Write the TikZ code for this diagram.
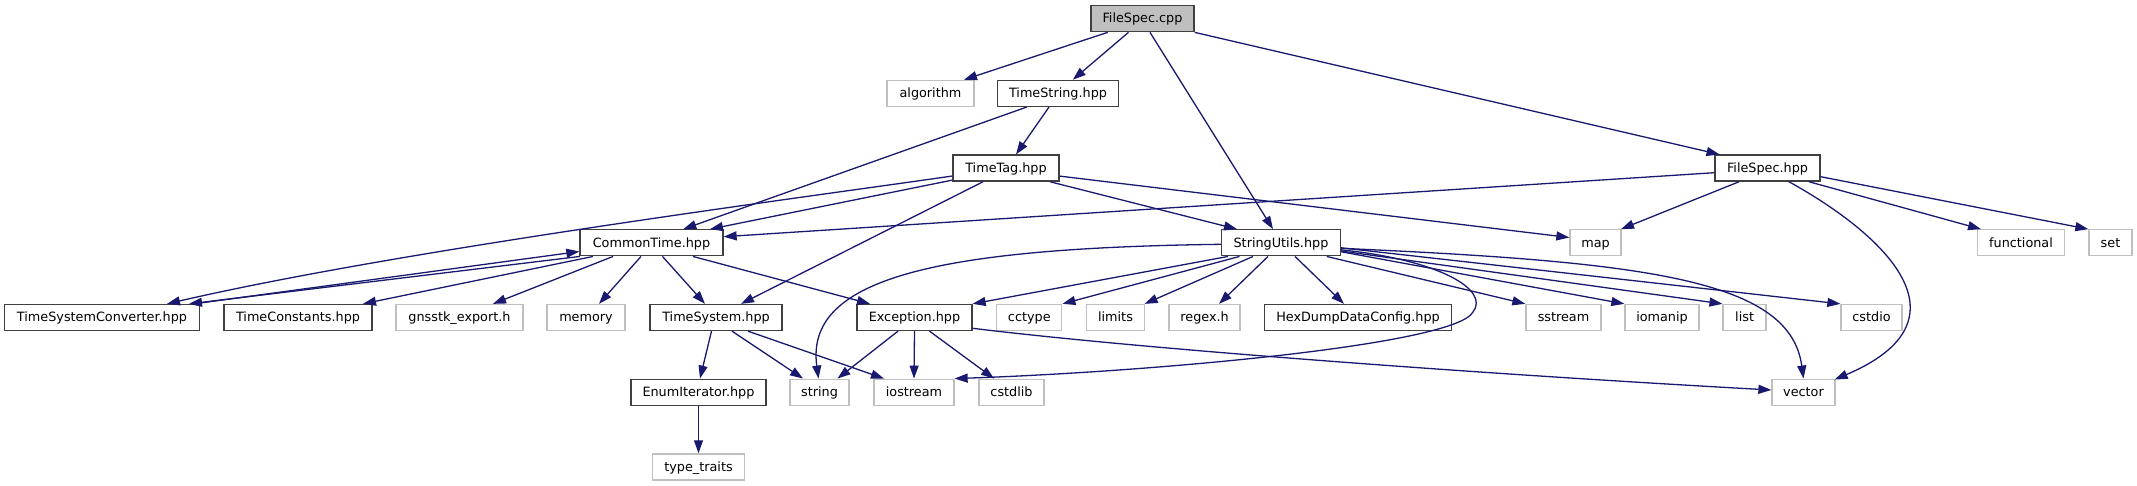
\documentclass[tikz,border=0pt]{standalone}
\usepackage{fontspec}
\setmainfont{DejaVu Sans}
\usetikzlibrary{arrows.meta}
\definecolor{midnight}{HTML}{191970}
\definecolor{docb}{HTML}{404040}
\definecolor{undocb}{HTML}{BFBFBF}
\definecolor{rootfill}{HTML}{BFBFBF}
\tikzset{
  box/.style={rectangle, minimum height=26pt, inner xsep=1pt, inner ysep=0pt,
    text height=11pt, text depth=2.6pt, line width=1.3pt,
    font=\fontsize{12.8pt}{15pt}\selectfont, text=black},
  doc/.style={box, draw=docb, fill=white},
  undoc/.style={box, draw=undocb, fill=white},
  root/.style={box, draw=docb, fill=rootfill},
  edge/.style={draw=midnight, line width=1.3pt, -{Triangle[length=13pt,width=9pt]}}
}
\begin{document}
\begin{tikzpicture}[x=1pt,y=-1pt]
\useasboundingbox[fill=white] (0,0) rectangle (2137,485);
% rank 0
\node[root, minimum width=103pt] (fcpp) at (1142.5,18.7) {FileSpec.cpp};
% rank 1
\node[undoc, minimum width=87pt] (algo) at (930.5,93.4) {algorithm};
\node[doc, minimum width=121.5pt] (tstr) at (1058,93.4) {TimeString.hpp};
% rank 2
\node[doc, minimum width=106pt] (ttag) at (1006,168.1) {TimeTag.hpp};
\node[doc, minimum width=105pt] (fhpp) at (1767.5,168.1) {FileSpec.hpp};
% rank 3
\node[doc, minimum width=143pt] (ctime) at (651.5,242.8) {CommonTime.hpp};
\node[doc, minimum width=118.5pt] (sutil) at (1281,242.8) {StringUtils.hpp};
\node[undoc, minimum width=51pt] (map) at (1595.5,242.8) {map};
\node[undoc, minimum width=87pt] (func) at (2021,242.8) {functional};
\node[undoc, minimum width=43pt] (set) at (2110.5,242.8) {set};
% rank 4
\node[doc, minimum width=195pt] (tsc) at (102,317.5) {TimeSystemConverter.hpp};
\node[doc, minimum width=148pt] (tcon) at (298,317.5) {TimeConstants.hpp};
\node[undoc, minimum width=127pt] (gexp) at (459.5,317.5) {gnsstk\_export.h};
\node[undoc, minimum width=78pt] (mem) at (586,317.5) {memory};
\node[doc, minimum width=132pt] (tsys) at (716,317.5) {TimeSystem.hpp};
\node[doc, minimum width=115pt] (exc) at (914.5,317.5) {Exception.hpp};
\node[undoc, minimum width=65pt] (cct) at (1029.3,317.5) {cctype};
\node[undoc, minimum width=58pt] (lim) at (1115.5,317.5) {limits};
\node[undoc, minimum width=71pt] (reg) at (1204.6,317.5) {regex.h};
\node[doc, minimum width=187pt] (hex) at (1358,317.5) {HexDumpDataConfig.hpp};
\node[undoc, minimum width=75pt] (sst) at (1563.5,317.5) {sstream};
\node[undoc, minimum width=74pt] (iom) at (1662,317.5) {iomanip};
\node[undoc, minimum width=43pt] (list) at (1744.6,317.5) {list};
\node[undoc, minimum width=61pt] (cstdio) at (1871.5,317.5) {cstdio};
% rank 5
\node[doc, minimum width=135pt] (enum) at (698.5,392.2) {EnumIterator.hpp};
\node[undoc, minimum width=59pt] (str) at (819.5,392.2) {string};
\node[undoc, minimum width=80pt] (ios) at (914,392.2) {iostream};
\node[undoc, minimum width=65pt] (cstdlib) at (1011.5,392.2) {cstdlib};
\node[undoc, minimum width=63pt] (vec) at (1803.5,392.2) {vector};
% rank 6
\node[undoc, minimum width=92pt] (tt) at (698.5,466.9) {type\_traits};

% FileSpec.cpp
\draw[edge] ([xshift=-34.8pt]fcpp.south) -- ([xshift=33.5pt]algo.north);
\draw[edge] ([xshift=-14pt]fcpp.south) -- ([xshift=14.8pt]tstr.north);
\draw[edge] ([xshift=7.5pt]fcpp.south) -- ([xshift=-8pt]sutil.north);
\draw[edge] (fcpp.south east) -- ([xshift=-48pt]fhpp.north);
% TimeString
\draw[edge] ([xshift=-9pt]tstr.south) -- ([xshift=10pt]ttag.north);
\draw[edge] ([xshift=-31.3pt]tstr.south) -- ([xshift=31.8pt]ctime.north);
% TimeTag
\draw[edge] ([yshift=-7.9pt]ttag.west) .. controls (800,198) and (400,250) .. ([xshift=65pt]tsc.north);
\draw[edge] ([yshift=-12pt]ttag.west) -- ([xshift=58.5pt]ctime.north);
\draw[edge] ([xshift=-23pt]ttag.south) -- ([xshift=25pt]tsys.north);
\draw[edge] ([xshift=44pt]ttag.south) -- ([xshift=-44pt]sutil.north);
\draw[edge] ([yshift=-8pt]ttag.east) -- ([yshift=5.3pt]map.west);
% FileSpec.hpp
\draw[edge] ([yshift=-4.6pt]fhpp.west) -- ([yshift=6.1pt]ctime.east);
\draw[edge] ([xshift=-28.5pt]fhpp.south) -- ([xshift=25.5pt]map.north);
\draw[edge] ([xshift=21.5pt]fhpp.south) .. controls (1885,235) and (1975,320) .. ([xshift=-1pt,yshift=-1pt]vec.north east);
\draw[edge] ([xshift=41.5pt]fhpp.south) -- ([xshift=-40pt]func.north);
\draw[edge] ([yshift=-8.6pt]fhpp.east) -- (set.north west);
% CommonTime
\draw[edge] ([xshift=0.5pt]ctime.south west) -- ([xshift=87pt]tsc.north);
\draw[edge] ([xshift=92pt]tsc.north) -- ([yshift=-8.7pt]ctime.west);
\draw[edge] ([xshift=-58.5pt]ctime.south) -- ([xshift=65pt]tcon.north);
\draw[edge] ([xshift=-38.5pt]ctime.south) -- ([xshift=33.5pt]gexp.north);
\draw[edge] ([xshift=-10.5pt]ctime.south) -- ([xshift=13pt]mem.north);
\draw[edge] ([xshift=11pt]ctime.south) -- ([xshift=-11pt]tsys.north);
\draw[edge] ([xshift=41.5pt]ctime.south) -- ([xshift=-44.5pt]exc.north);
% TimeSystem
\draw[edge] ([xshift=-4.5pt]tsys.south) -- ([xshift=1.5pt]enum.north);
\draw[edge] ([xshift=16pt]tsys.south) -- ([xshift=-16.5pt]str.north);
\draw[edge] ([xshift=32pt]tsys.south) -- ([xshift=-30pt]ios.north);
\draw[edge] (enum.south) -- (tt.north);
% Exception
\draw[edge] ([xshift=-16.5pt]exc.south) -- ([xshift=18pt]str.north);
\draw[edge] (exc.south) -- (ios.north);
\draw[edge] ([xshift=15pt]exc.south) -- ([xshift=-17.5pt]cstdlib.north);
\draw[edge] ([yshift=-10.8pt]exc.east) .. controls (1150,350) and (1500,375) .. ([yshift=2.2pt]vec.west);
% StringUtils
\draw[edge] ([yshift=-1.5pt]sutil.west) .. controls (930,248) and (805,280) .. ([xshift=-1pt]str.north);
\draw[edge] ([xshift=-53pt]sutil.south) -- (exc.north east);
\draw[edge] ([xshift=-41.5pt]sutil.south) -- (cct.north east);
\draw[edge] ([xshift=-28pt]sutil.south) -- ([xshift=-0.5pt]lim.north east);
\draw[edge] ([xshift=-13pt]sutil.south) -- ([xshift=14.4pt]reg.north);
\draw[edge] ([xshift=14pt]sutil.south) -- ([xshift=-14pt]hex.north);
\draw[edge] ([xshift=45.7pt]sutil.south) -- (sst.north west);
\draw[edge] ([yshift=-8.9pt]sutil.east) -- (iom.north west);
\draw[edge] ([yshift=-8.2pt]sutil.east) -- (list.north west);
\draw[edge] ([yshift=-5pt]sutil.east) -- (cstdio.north west);
\draw[edge] ([yshift=-5.5pt]sutil.east) .. controls (1650,262) and (1790,280) .. (vec.north);
\draw[edge] ([yshift=-7pt]sutil.east) .. controls (1440,260) and (1490,290) .. (1473,312) .. controls (1455,345) and (1150,372) .. (ios.north east);
\end{tikzpicture}
\end{document}
